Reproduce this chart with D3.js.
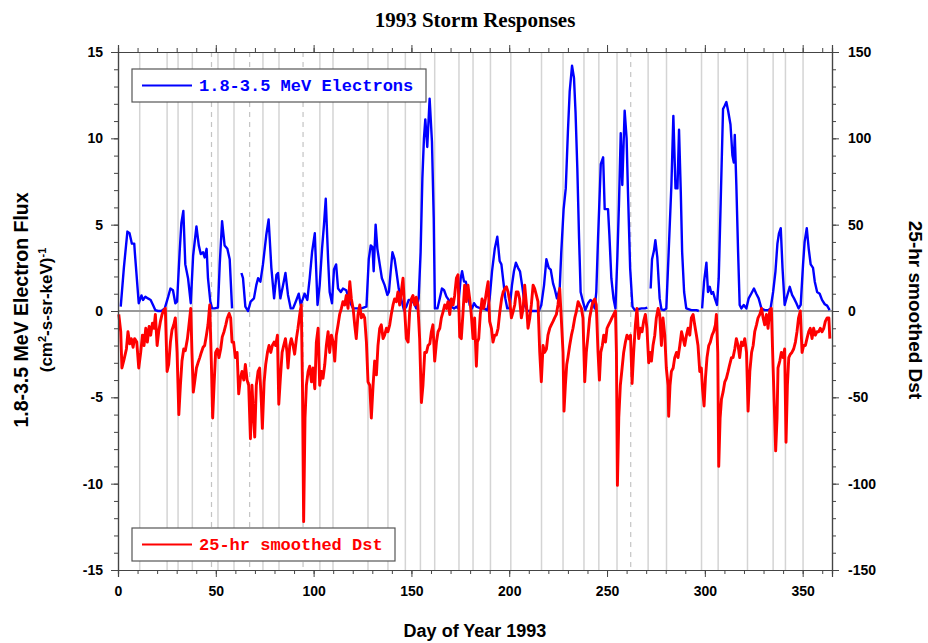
<!DOCTYPE html>
<html><head><meta charset="utf-8">
<script src="https://cdn.jsdelivr.net/npm/d3@7"></script>
<style>body{margin:0;background:#fff}svg{display:block}</style>
</head><body><svg id="c" width="928" height="643"></svg>
<script>
// ---------- data ----------
const fluxDay = [1.4,3,4.8,5.9,7.1,8.3,8.6,10.6,12,12.8,14,15.3,16.7,17.9,19.1,20.5,22.2,23.9,25.6,26.8,28.1,29.3,30.2,31.5,32.4,33.4,34.4,35.8,37.2,38.4,40.1,41.3,42.3,43.5,44.3,45.3,46,47.2,48.1,49.4,51.1,52,53.2,54.5,55.9,57.1,58.3,
 60,
 63.1,63.9,65.1,66.5,67.8,69.5,70.7,71.6,72.8,74.1,75.8,77,78.4,79.8,81,81.8,83,84.4,85.6,86.9,88.3,89.5,91.2,92.4,93.4,94.6,95.4,96.8,98,99.2,100.6,102,103.1,104.3,105.3,106.2,107.4,108.2,109.4,110.4,111.5,112.5,113.9,115,116.7,118.5,120.2,121,124.4,127,128.2,129.2,130.1,130.7,131.7,132.6,133.8,134.9,136.3,137.7,138.5,139.4,140.3,141.4,142.3,143.5,144.9,146.2,147.4,148.6,150,151.3,152.5,153.7,154.7,155.6,156.4,157.1,158.1,159.3,160.5,161.4,162,163.3,164.5,165.6,166.7,167.9,169.1,170.4,171.8,173,173.8,175.2,175.9,176.9,177.8,178.6,179.8,181,182,183.2,184.4,185.7,187,188.8,190,191.2,192.6,193.9,195.1,196,197,198,199,200.2,201.4,202.4,203.4,204.5,205.5,206.7,207.9,209.3,211.3,213,215.1,216.4,217.8,219,220.2,221.2,222.4,223.2,224.4,225.8,226.6,227.8,228.9,230,230.9,232.1,233.1,233.9,234.8,235.7,236.5,237.7,238.9,240.3,241.5,242.5,243.7,244.5,245.4,246.8,248,248.8,250.5,251.2,252.2,253.3,254.3,255.3,256.1,257,257.8,259,260,260.7,261.8,263,264.2,265.8,267.6,269.3,270.6,
 271.5,
 272.3,273,274,274.7,275.7,276.9,277.8,279.1,280.3,281.5,282.9,283.9,285,286,286.8,287.7,288.4,289.4,290.5,293.1,295.7,296.9,
 297.8,
 298.6,299.6,300.8,301.6,302.5,303.4,304.2,305.1,306.2,307.1,308.1,309.3,310.2,311,311.9,313.1,314.1,314.8,315.3,316.1,317,317.8,318.7,319.9,321.2,322.4,323.7,325.1,326.3,327.5,328.9,330.6,332.3,333.6,334.9,336.1,337.1,337.9,338.8,339.7,340.8,342.2,343.4,344.6,345.6,346.8,347.9,349,350.2,351,352.1,353.1,354.1,355.3,356.2,357.4,358.7,359.9,361.3,362.5,363.8];
const fluxValue = [0.25,2.5,4.6,4.5,3.9,3.9,3.4,0.45,0.9,0.64,0.83,0.73,0.64,0.35,0.05,0,0,0.15,0.8,1.3,1.2,0.45,0.54,3.4,5.1,5.8,2.7,1.9,0.45,3.2,4.9,3.8,3.3,3.4,3.1,3.6,1.9,0.55,0.15,0.15,0.2,2.7,5.2,3.8,3.6,3.0,0.15,
 null,
 2.2,1.9,0.25,0,0.54,0.73,1.5,1.9,1.7,2.7,4.4,5.3,2.5,0.73,2.1,2.2,0.73,1.5,2.2,0.93,0.15,0.15,0.64,1.0,0.35,0.73,1.0,0.64,1.9,3.4,4.5,0.35,1.5,3.6,5.0,6.5,3.0,1.1,0.45,2.4,2.7,1.3,1.1,1.3,1.2,0.54,0.15,0.15,0.15,0.25,3.0,3.8,3.7,2.3,5.0,3.6,2.7,1.9,1.5,0.93,1.1,2.3,3.4,3.0,2.3,1.3,0.64,0.05,0.25,0.64,0.64,0.45,0.15,0.73,3.4,7.7,10.0,11.1,9.5,12.3,9.8,5.4,0.15,0.15,0.73,1.3,1.2,0.83,0.64,0.25,0.15,0.25,0.15,1.9,2.3,1.7,1.7,1.2,0.35,0.15,0.45,0.25,0.2,0.15,0.15,0.05,0.73,2.3,3.6,4.3,2.9,2.7,1.7,0.73,0.15,0.15,1.5,2.3,2.8,2.5,2.3,1.4,0.35,0,0,0,0,0.35,1.5,3.0,2.5,2.4,1.6,1.3,0.73,1.3,3.4,5.9,7.1,10.4,12.7,14.2,13.5,11.5,8.3,4.2,1.1,0.54,0.05,0.45,0.64,0.54,0.15,1.1,4.2,8.5,8.9,5.9,5.9,4.4,1.9,0.73,0.15,3.2,6.2,10.3,7.3,11.6,10.0,6.9,2.5,0.25,0.05,0.1,0.15,0.15,0.2,
 null,
 1.3,3.0,3.5,4.1,3.1,0.73,0.1,0.05,0.15,3.4,7.3,11.3,7.1,7.1,10.5,6.9,3.4,1.1,0.15,0.05,0.05,0,
 null,
 0.15,1.7,2.8,1.1,1.4,1.0,1.1,0.73,0.35,1.9,6.3,11.7,11.9,12.1,11.6,10.8,9.0,8.6,10.2,7.3,3.4,0.35,0.15,0.35,0.15,0.73,1.0,1.3,1.0,0.73,0.15,0.05,0.05,0.15,1.1,2.3,3.9,4.5,4.8,2.5,0.35,0.93,1.4,0.93,0.73,0.45,0.15,0.35,2.7,4.0,4.8,3.6,2.7,2.5,1.7,1.1,1.0,0.64,0.39,0.31,0.05];

const dstDay = [0.4,1.4,2,3.1,4.3,5.1,6,6.8,7.7,8.5,9.6,10.6,11.6,12.5,13.3,14.2,15,15.9,16.7,17.6,18.4,19.1,20,20.8,21.7,22.5,23.4,24.2,25.1,25.9,26.8,27.6,28.5,29.3,30.2,31.1,31.9,32.7,33.6,34.4,35.5,36.1,37.2,37.8,38.5,39.2,40.1,40.9,41.8,42.6,43.5,44.3,45.2,46,46.9,47.7,48.4,49.1,49.9,50.8,51.6,52.5,53.3,54.2,55.1,55.9,56.8,57.6,58.3,59.1,60,60.9,61.7,62.6,63.4,64.3,65.1,66,66.8,67.7,68.5,69.3,69.9,70.7,71.6,72.4,73.3,73.8,74.7,75.5,76.4,77.2,78.1,78.9,79.8,80.6,81.5,82.2,83,83.9,84.7,85.6,86.4,86.9,87.8,88.6,89.5,90.3,91.2,92,92.9,93.7,94.3,94.9,95.6,96.3,97.2,98,98.9,99.7,100.6,101.4,102.3,103.1,104,104.8,105.7,106.5,107.4,108.2,109.1,110,110.8,111.6,112.5,113.3,114.2,115,115.9,116.7,117.6,118.5,119.3,120.2,121,121.8,122.7,123.6,124.4,125.3,126.1,127,127.8,128.7,129.5,130.4,131.2,132.1,132.9,133.8,134.6,135.5,136.3,137.2,138,138.9,139.7,140.6,141.4,142.3,143.1,144,144.8,145.7,146.5,147.4,148.3,149.1,150,150.8,151.7,152.5,153.3,154.2,155.1,155.9,156.8,157.7,158.5,159.4,160.2,161,161.9,162.8,163.6,164.5,165.3,166.2,167,167.9,168.7,169.6,170.4,171.3,172.1,173,173.8,174.7,175.5,176.4,177.2,178.1,178.9,179.8,180.6,181.5,182.3,183.2,183.7,184.4,185.2,186.1,186.9,187.8,188.6,189.2,190,190.9,191.7,192.6,193.4,194.3,195.2,196.1,196.9,197.8,198.6,199.4,200.3,201.1,202,202.8,203.6,204.5,205.3,206.2,207.1,207.9,208.8,209.6,210.5,211.3,212.2,213,213.9,214.7,215.6,216.4,217.3,218.1,219,219.8,220.7,221.5,222.4,223.2,224.1,224.9,225.8,226.6,227.5,228,228.7,229.4,230,230.9,231.8,232.6,233.5,234.3,235.2,236,236.9,237.7,238.6,239.4,240.3,241.1,242,242.8,243.7,244.5,245.4,246.1,246.8,247.6,248.3,249.2,250,250.8,251.7,252.5,253.4,254.3,254.8,255.3,256,256.8,257.7,258.5,259.4,260.2,261.1,262,262.8,263.6,264.5,265.3,266.2,267,267.9,268.7,269.6,270.4,271.3,272,272.7,273.5,274.4,275.2,276.1,276.9,277.8,278.6,279.5,280.3,281.2,281.5,282.2,282.9,283.8,284.6,285.5,286.3,287.2,288.1,288.9,289.7,290.6,291.4,292.3,293.1,294,294.8,295.7,296.5,297.4,298.2,298.8,299.6,300.3,301.1,302,302.8,303.7,304.5,305.4,305.9,306.6,307.1,307.8,308.5,309.3,310.2,311,311.9,312.7,313.6,314.4,315.3,316.1,317,317.8,318.7,319.5,320.4,321.3,322.1,323,323.9,324.7,325.5,326.4,327.2,328.1,329,329.8,330.6,331.5,332.3,333.2,334,334.9,335.7,336.2,336.9,337.4,338.3,339.1,340,340.8,341.5,342.2,342.9,343.7,344.5,345.4,346.3,347.1,347.9,348.8,349.7,350.5,351.4,352.2,353.1,353.9,354.8,355.6,356.5,357.3,358.2,359,359.9,360.8,361.6,362.5,363.4,363.9];
const dstValue = [-2,-12,-33,-28,-22,-12,-19,-16,-21,-16,-18,-33,-24,-14,-20,-10,-18,-9,-14,-7,-10,-2,-20,-12,-6,-2,0.5,1.5,-35,-31,-18,-11,-8,-4,-24,-60,-43,-29,-22,-23,-16,-10,1.5,-24,-47,-41,-33,-30,-27,-24,-21,-20,-14,-8,3.5,-29,-62,-43,-24,-22,-27,-22,-15,-12,-8,-4,-1.4,-4,-18,-18,-27,-24,-48,-39,-35,-40,-31,-40,-43,-74,-43,-62,-73,-43,-35,-33,-53,-68,-41,-31,-24,-20,-24,-20,-18,-20,-14,-54,-39,-24,-20,-16,-24,-33,-20,-16,-20,-25,-16,-10,-2,3.5,-43,-122,-62,-43,-35,-32,-41,-33,-45,-18,-10,-43,-35,-39,-31,-20,-12,-24,-14,-18,-29,-14,-8,-2,1.5,5.4,3.5,9,1.5,17,7,1.5,-8,-16,-2,3.5,-4,-2,-4,-18,-41,-43,-62,-43,-29,-37,-20,-10,-8,-16,-14,-10,-12,-8,-2,3.5,7,5.4,11,3.5,11,19,1.5,-16,-18,-0.4,7,9,3.5,8,3.5,-16,-53,-43,-24,-24,-20,-19,-12,-8,-29,-18,-12,-10,-4,-0.4,3.5,1.5,5.4,-2,7,3.5,9,19,21,-15,-16,-0.4,15,5.4,15,7,-2,-16,-4,-32,-18,-16,-2,7,1.5,7,13,17,-6,-10,-18,-14,-14,-10,-0.4,7,11,13,14,11,5.4,-4,-0.4,3.5,11,11,7,-4,1.5,15,3.5,-10,-4,3.5,15,13,9,5.4,-24,-41,-20,-24,-22,-14,-10,-8,-6,-4,-2,3.5,13,-4,-24,-58,-43,-31,-27,-20,-14,-10,-4,-0.4,5.4,3.5,1.5,-4,-41,-24,-14,-4,1.5,5.4,7,3.5,-24,-40,-24,-20,-14,-18,-10,-8,-6,-4,-2,0,-24,-101,-62,-43,-33,-24,-18,-14,-16,-14,-42,-24,-8,1.5,-16,-10,-12,-6,-2,-10,-30,-24,-29,-20,-14,-4,1.5,-2,-20,-4,-14,-33,-43,-61,-43,-35,-33,-27,-24,-27,-20,-12,-16,-20,-14,-10,-14,-4,-2,-8,-14,-20,-35,-33,-45,-55,-39,-27,-20,-18,-14,-12,-8,-2,-24,-90,-62,-51,-47,-41,-39,-35,-31,-27,-27,-22,-16,-20,-27,-18,-20,-16,-24,-58,-35,-24,-20,-12,-8,-4,-2,1.5,-4,-8,-2,-10,0.4,1.5,-33,-62,-81,-62,-33,-29,-24,-27,-22,-76,-43,-27,-25,-24,-22,-18,-12,-4,0,-24,-20,-20,-16,-12,-10,-16,-10,-14,-12,-12,-10,-12,-10,-6,-4,-4,-16];

// storm marker days (solid) and dashed markers
const stormDays = [11.1,25.1,30.7,38.0,51.1,59.3,74.1,82.3,103.2,109.9,127.8,138.0,146.9,154.6,161.9,174.3,181.5,190.4,200.8,216.5,227.5,238.2,245.8,255.1,271.0,280.4,298.3,306.8,321.8,334.9,341.2,350.2];
const dashedDays = [47.8,67.3,94.6,262.1];

const xTicks = [0,50,100,150,200,250,300,350];
const leftTicks = [-15,-10,-5,0,5,10,15];
const rightTicks = [-150,-100,-50,0,50,100,150];

// ---------- layout ----------
const svg = d3.select("#c");
const L=118, R=832, T=52, B=570;
const x = d3.scaleLinear().domain([0,365]).range([L,R]);
const yL = d3.scaleLinear().domain([-15,15]).range([B,T]);
const yR = d3.scaleLinear().domain([-150,150]).range([B,T]);
const fmt = d => String(d).replace("\u2212","-");
const tickFont = "'Liberation Sans', Arial, sans-serif";
const axisCol = "#444";

// grid lines
svg.append("g").selectAll("line").data(stormDays).join("line")
  .attr("x1",d=>x(d)).attr("x2",d=>x(d)).attr("y1",T).attr("y2",B)
  .attr("stroke","#d4d4d4").attr("stroke-width",1.5);
svg.append("g").selectAll("line").data(dashedDays).join("line")
  .attr("x1",d=>x(d)).attr("x2",d=>x(d)).attr("y1",T).attr("y2",B)
  .attr("stroke","#c4c4c4").attr("stroke-width",1.2).attr("stroke-dasharray","5,5");

// zero line
svg.append("line").attr("x1",L).attr("x2",R).attr("y1",yL(0)).attr("y2",yL(0))
  .attr("stroke","#999").attr("stroke-width",2.2);

// series
const fluxData = fluxDay.map((d,i)=>({d, v:fluxValue[i]}));
const dstData = dstDay.map((d,i)=>({d, v:dstValue[i]}));
const lineF = d3.line().defined(p=>p.v!==null).x(p=>x(p.d)).y(p=>yL(p.v));
const lineD = d3.line().x(p=>x(p.d)).y(p=>yR(p.v));
svg.append("path").datum(fluxData).attr("d",lineF).attr("fill","none")
  .attr("stroke","#0000ff").attr("stroke-width",2.4).attr("stroke-linejoin","round");
svg.append("path").datum(dstData).attr("d",lineD).attr("fill","none")
  .attr("stroke","#ff0000").attr("stroke-width",2.9).attr("stroke-linejoin","round");

// axes
function styleAxis(g){
  g.select(".domain").attr("stroke",axisCol).attr("stroke-width",1.2);
  g.selectAll(".tick line").attr("stroke",axisCol).attr("stroke-width",1);
  g.selectAll("text").attr("font-family",tickFont).attr("font-weight","bold").attr("font-size",14).attr("fill","#000");
}
const xMinor = d3.range(0,366,10);
svg.append("g").attr("transform",`translate(0,${B})`)
  .call(d3.axisBottom(x).tickValues(xMinor).tickSize(4).tickFormat("")).call(styleAxis);
svg.append("g").attr("transform",`translate(0,${B})`)
  .call(d3.axisBottom(x).tickValues(xTicks).tickSize(7).tickPadding(9).tickFormat(fmt)).call(styleAxis);
svg.append("g").attr("transform",`translate(0,${T})`)
  .call(d3.axisTop(x).tickValues(xMinor).tickSize(4).tickFormat("")).call(styleAxis);
svg.append("g").attr("transform",`translate(0,${T})`)
  .call(d3.axisTop(x).tickValues(xTicks).tickSize(7).tickFormat("")).call(styleAxis);

svg.append("g").attr("transform",`translate(${L},0)`)
  .call(d3.axisLeft(yL).tickValues(d3.range(-15,16,1)).tickSize(4).tickFormat("")).call(styleAxis);
svg.append("g").attr("transform",`translate(${L},0)`)
  .call(d3.axisLeft(yL).tickValues(leftTicks).tickSize(7).tickPadding(8).tickFormat(fmt)).call(styleAxis);
svg.append("g").attr("transform",`translate(${R},0)`)
  .call(d3.axisRight(yR).tickValues(d3.range(-150,151,10)).tickSize(4).tickFormat("")).call(styleAxis);
svg.append("g").attr("transform",`translate(${R},0)`)
  .call(d3.axisRight(yR).tickValues(rightTicks).tickSize(7).tickPadding(9).tickFormat(fmt)).call(styleAxis);

// legends
const legFont = "'Liberation Mono', 'Courier New', monospace";
function legend(x0,y0,w,h,col,label){
  const g = svg.append("g");
  g.append("rect").attr("x",x0).attr("y",y0).attr("width",w).attr("height",h)
    .attr("fill","#fff").attr("stroke","#555").attr("stroke-width",1.2);
  g.append("line").attr("x1",x0+10).attr("x2",x0+60).attr("y1",y0+h/2).attr("y2",y0+h/2)
    .attr("stroke",col).attr("stroke-width",2);
  g.append("text").attr("x",x0+67).attr("y",y0+h/2+5).attr("fill",col)
    .attr("font-family",legFont).attr("font-weight","bold").attr("font-size",17).text(label);
}
legend(132,69,294,33,"#0000ff","1.8-3.5 MeV Electrons");
legend(132,528,263,33,"#ff0000","25-hr smoothed Dst");

// titles
const sansB = "'Liberation Sans Narrow','Liberation Sans', Arial, sans-serif";
svg.append("text").attr("x",475).attr("y",27).attr("text-anchor","middle")
  .attr("font-family","'Liberation Serif','Times New Roman',serif").attr("font-weight","bold")
  .attr("font-size",21).text("1993 Storm Responses");
svg.append("text").attr("x",475).attr("y",637).attr("text-anchor","middle")
  .attr("font-family",sansB).attr("font-weight","bold").attr("font-size",18).text("Day of Year 1993");
const yl = svg.append("text").attr("transform","translate(28,310) rotate(-90)").attr("text-anchor","middle")
  .attr("font-family",sansB).attr("font-weight","bold").attr("font-size",19.5);
yl.append("tspan").attr("x",0).attr("y",0).text("1.8-3.5 MeV Electron Flux");
const yl2 = svg.append("text").attr("transform","translate(52,310) rotate(-90)").attr("text-anchor","middle")
  .attr("font-family",sansB).attr("font-weight","bold").attr("font-size",17);
yl2.append("tspan").text("(cm");
yl2.append("tspan").attr("dy",-6).attr("font-size",11).text("2");
yl2.append("tspan").attr("dy",6).text("-s-sr-keV)");
yl2.append("tspan").attr("dy",-6).attr("font-size",11).text("-1");
svg.append("text").attr("transform","translate(909,310) rotate(90)").attr("text-anchor","middle")
  .attr("font-family",sansB).attr("font-weight","bold").attr("font-size",19).text("25-hr smoothed Dst");
</script></body></html>
